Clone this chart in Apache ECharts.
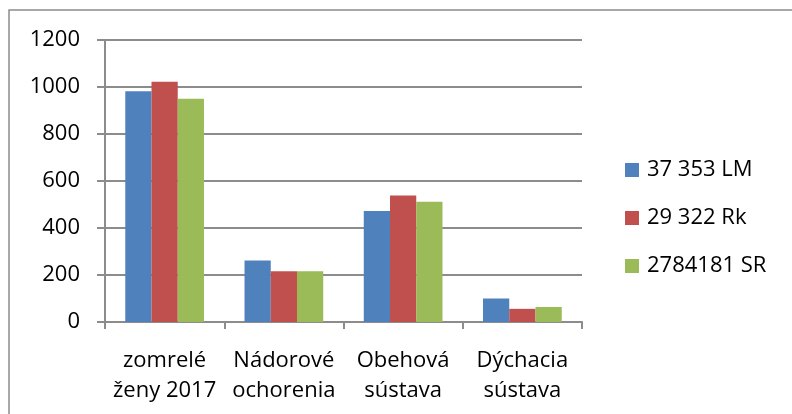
<!DOCTYPE html>
<html>
<head>
<meta charset="utf-8">
<script src="https://cdn.jsdelivr.net/npm/echarts@6/dist/echarts.min.js"></script>
<style>
  html, body { margin: 0; padding: 0; background: #fff; }
  #chart { width: 792px; height: 414px; }
</style>
</head>
<body>
<div id="chart"></div>
<script>
// values
var categories = ["zomrelé\nženy 2017", "Nádorové\nochorenia", "Obehová\nsústava", "Dýchacia\nsústava"];
var seriesNames = ["37 353 LM", "29 322 Rk", "2784181 SR"];
var lmValues = [982, 262, 472, 100];
var rkValues = [1022, 216, 538, 56];
var srValues = [950, 216, 512, 64];
var colors = ["#4F81BD", "#C0504D", "#9BBB59"];

var font = "'Open Sans', 'Noto Sans', sans-serif";
var gray = "#8c8c8c";

var myChart = echarts.init(document.getElementById('chart'));

var option = {
    animation: false,
    textStyle: { fontFamily: font },
    graphic: [{
        type: 'rect',
        shape: { x: 9, y: 10, width: 900, height: 500 },
        style: { fill: 'none', stroke: gray, lineWidth: 1.5 },
        silent: true
    }],
    grid: { left: 105, right: 210, top: 40, bottom: 92 },
    legend: {
        orient: 'vertical',
        left: 625,
        top: 159,
        padding: 0,
        itemWidth: 14,
        itemHeight: 14,
        itemGap: 26,
        icon: 'rect',
        textStyle: { fontSize: 22, color: '#000', fontFamily: font, padding: [0, 0, 0, 3] },
        data: seriesNames
    },
    xAxis: {
        type: 'category',
        data: categories,
        axisLine: { lineStyle: { color: gray, width: 2 } },
        axisTick: { show: true, length: 7, lineStyle: { color: gray, width: 2 } },
        axisLabel: { color: '#000', fontSize: 22, lineHeight: 30, margin: 24, interval: 0 }
    },
    yAxis: {
        type: 'value',
        min: 0,
        max: 1200,
        interval: 200,
        axisLine: { show: true, lineStyle: { color: gray, width: 2 } },
        axisTick: { show: true, length: 8, lineStyle: { color: gray, width: 2 } },
        splitLine: { lineStyle: { color: gray, width: 2 } },
        axisLabel: { color: '#000', fontSize: 22, margin: 25, formatter: function (v) { return String(v); } }
    },
    series: [{
        name: seriesNames[0],
        type: 'bar',
        data: lmValues,
        itemStyle: { color: colors[0] },
        barGap: '0%',
        barCategoryGap: '34%'
    }, {
        name: seriesNames[1],
        type: 'bar',
        data: rkValues,
        itemStyle: { color: colors[1] }
    }, {
        name: seriesNames[2],
        type: 'bar',
        data: srValues,
        itemStyle: { color: colors[2] }
    }]
};

myChart.setOption(option);
</script>
</body>
</html>
